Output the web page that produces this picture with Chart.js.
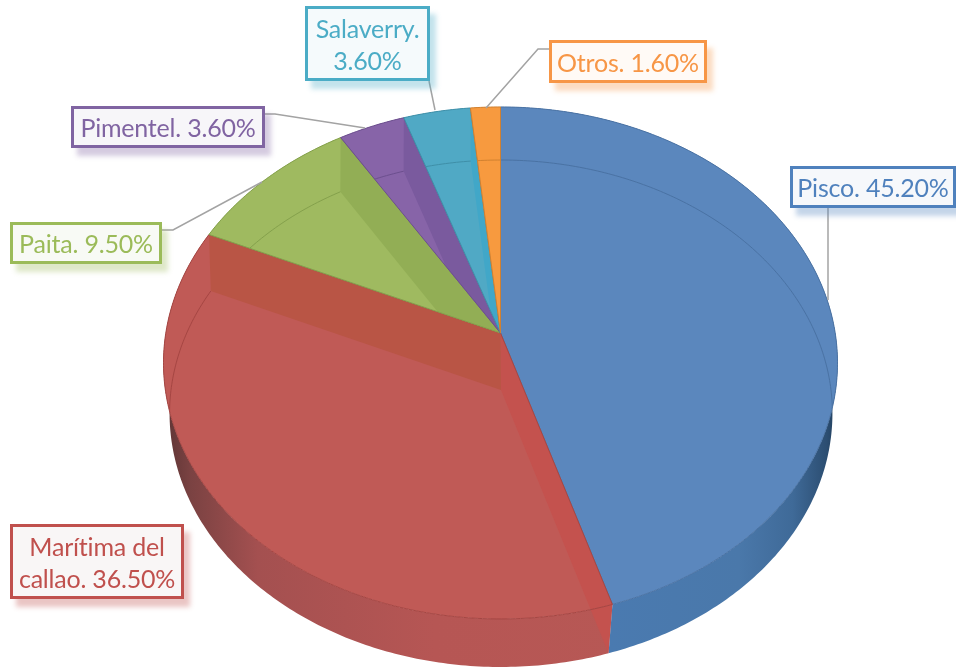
<!DOCTYPE html>
<html>
<head>
<meta charset="utf-8">
<style>
html, body { margin: 0; padding: 0; background: #fff; }
#wraper { position: relative; width: 956px; height: 667px; overflow: hidden; }
canvas { position: absolute; left: 0; top: 0; }
.label {
    position: absolute;
    box-sizing: border-box;
    display: flex;
    align-items: center;
    justify-content: center;
    text-align: center;
    border-style: solid;
    border-width: 3px;
    font-family: Lato, "Open Sans", sans-serif;
    font-size: 25px;
    line-height: 32px;
    letter-spacing: -0.2px;
}
</style>
</head>
<body>
<div id="wraper"><canvas id="chart" width="956" height="667"></canvas></div>
<script src="https://cdn.jsdelivr.net/npm/chart.js@4"></script>
<script>
var categories = ["Pisco", "Marítima del callao", "Paita", "Pimentel", "Salaverry", "Otros"];
var shares = [45.2, 36.5, 9.5, 3.6, 3.6, 1.6];

var topColors = ["#5b87bd", "#c05a56", "#9fba60", "#8764a8", "#50a9c5", "#f79a3f"];
var startWallColors = ["#5288c4", "#c4524e", "#92ae55", "#7a5a9e", "#41a7c8", "#f79a3f"];
var endWallColors = ["#5288c4", "#b95545", "#92ae55", "#7a5a9e", "#41a7c8", "#f79a3f"];
var lineColors = ["#4a72a3", "#a54643", "#84a04c", "#6c4f8e", "#3f8fa8", "#d08030"];
var labelColors = ["#4f81bd", "#c0504d", "#9bbb59", "#8064a2", "#4bacc6", "#f79646"];
var labelFills = ["#f6f8fb", "#f9f6f6", "#f8faf5", "#f7f6f9", "#f5fafc", "#fffaf6"];

// outer box of each label: left, top, width, height
var labelBoxes = [
    [790, 166, 166, 42],
    [10, 524, 174, 75],
    [10, 222, 152, 42],
    [71, 106, 194, 42],
    [305, 6, 125, 75],
    [549, 40, 158, 43]
];

var leaderLines = [
    [[828, 208], [828, 300]],
    [],
    [[162, 230], [173, 230], [262, 182]],
    [[265, 114], [275, 114], [365, 128]],
    [[429, 81], [435, 110]],
    [[549, 49], [538, 49], [486, 108]]
];

// the two faces of the disc, seen in perspective
var UPPER = { cx: 500.5, cy: 333, ax: 334.7, ay: 252.5, k: 0.117 };
var LOWER = { cx: 501, cy: 390, ax: 330, ay: 251.3, k: 0.0927 };

function project(face, angle) {
    var u = Math.cos(angle),
        v = Math.sin(angle),
        w = 1 - face.k * v;
    return [face.cx + face.ax * u / w, face.cy + face.ay * v / w];
}

function rim(ctx, face, from, to) {
    var steps = Math.max(4, Math.ceil(Math.abs(to - from) * 80));
    for (var i = 0; i <= steps; i++) {
        var p = project(face, from + (to - from) * i / steps);
        ctx.lineTo(p[0], p[1]);
    }
}

function slicePath(ctx, arc) {
    ctx.beginPath();
    ctx.moveTo(UPPER.cx, UPPER.cy);
    rim(ctx, UPPER, arc.startAngle, arc.endAngle);
    ctx.closePath();
}

function sidePath(ctx, arc) {
    ctx.beginPath();
    rim(ctx, UPPER, arc.startAngle, arc.endAngle);
    rim(ctx, LOWER, arc.endAngle, arc.startAngle);
    ctx.closePath();
}

function wallPath(ctx, angle) {
    var a = project(UPPER, angle),
        b = project(LOWER, angle);
    ctx.beginPath();
    ctx.moveTo(UPPER.cx, UPPER.cy);
    ctx.lineTo(a[0], a[1]);
    ctx.lineTo(b[0], b[1]);
    ctx.lineTo(LOWER.cx, LOWER.cy);
    ctx.closePath();
}

function drawWall(ctx, arc, angle, color) {
    var regions = Math.sin(angle) > 0 ? [slicePath, sidePath] : [slicePath];
    regions.forEach(function(region) {
        ctx.save();
        region(ctx, arc);
        ctx.clip();
        ctx.fillStyle = color;
        wallPath(ctx, angle);
        ctx.fill();
        ctx.restore();
    });
}

function sideFill(ctx, index) {
    var g = ctx.createLinearGradient(163, 0, 840, 0);
    if (index === 0) {
        g.addColorStop(0.66, "#4a7ab0");
        g.addColorStop(0.85, "#4a78aa");
        g.addColorStop(0.93, "#3f6a98");
        g.addColorStop(0.98, "#2c4e72");
        g.addColorStop(1, "#1f3a56");
    } else if (index === 1) {
        g.addColorStop(0, "#5c3434");
        g.addColorStop(0.04, "#7a4242");
        g.addColorStop(0.14, "#a45050");
        g.addColorStop(0.4, "#b65654");
        g.addColorStop(1, "#b85a56");
    } else {
        g.addColorStop(0, topColors[index]);
        g.addColorStop(1, topColors[index]);
    }
    return g;
}

// 3D look: faces are worked out from the angles of the library's arc elements
var disc3d = {
    id: "disc3d",
    beforeDatasetDraw: function(chart, args) {
        var ctx = chart.ctx,
            arcs = args.meta.data;

        arcs.forEach(function(arc, i) {
            sidePath(ctx, arc);
            ctx.fillStyle = sideFill(ctx, i);
            ctx.fill();
        });

        arcs.forEach(function(arc, i) {
            slicePath(ctx, arc);
            ctx.fillStyle = topColors[i];
            ctx.fill();

            drawWall(ctx, arc, arc.startAngle, startWallColors[i]);
            drawWall(ctx, arc, arc.endAngle, endWallColors[i]);

            // far rim of the lower face shows through the top
            ctx.save();
            slicePath(ctx, arc);
            ctx.clip();
            ctx.beginPath();
            rim(ctx, LOWER, arc.startAngle, arc.endAngle);
            ctx.strokeStyle = lineColors[i];
            ctx.lineWidth = 1;
            ctx.stroke();
            ctx.restore();

            slicePath(ctx, arc);
            ctx.strokeStyle = lineColors[i];
            ctx.lineWidth = 1;
            ctx.stroke();
        });

        return false;
    },
    afterDraw: function(chart) {
        var ctx = chart.ctx;
        ctx.strokeStyle = "#a3a3a3";
        ctx.lineWidth = 1.5;
        leaderLines.forEach(function(line) {
            ctx.beginPath();
            line.forEach(function(p) {
                ctx.lineTo(p[0], p[1]);
            });
            ctx.stroke();
        });
    }
};

new Chart(document.getElementById("chart"), {
    type: "pie",
    data: {
        labels: categories,
        datasets: [{ data: shares, backgroundColor: topColors, borderWidth: 0 }]
    },
    options: {
        responsive: false,
        animation: false,
        plugins: {
            legend: { display: false },
            tooltip: { enabled: false }
        }
    },
    plugins: [disc3d]
});

categories.forEach(function(name, i) {
    var box = labelBoxes[i],
        el = document.createElement("div");
    el.className = "label";
    el.textContent = name + ". " + shares[i].toFixed(2) + "%";
    el.style.left = box[0] + "px";
    el.style.top = box[1] + "px";
    el.style.width = box[2] + "px";
    el.style.height = box[3] + "px";
    el.style.color = labelColors[i];
    el.style.borderColor = labelColors[i];
    el.style.background = labelFills[i];
    el.style.boxShadow = "6px 8px 5px " + labelColors[i] + "55";
    document.getElementById("wraper").appendChild(el);
});
</script>
</body>
</html>
